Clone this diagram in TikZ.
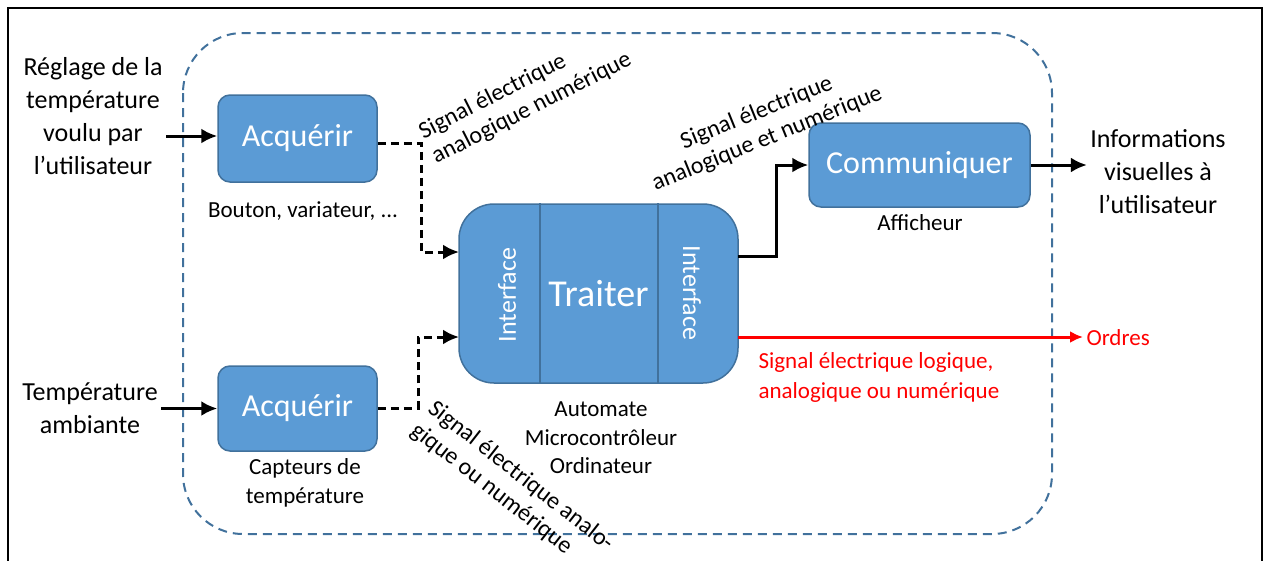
\documentclass[tikz,border=0pt]{standalone}
\usepackage{fontspec}
\setmainfont{Carlito}
\usetikzlibrary{positioning,arrows.meta}
\definecolor{bleu}{HTML}{5B9BD5}
\definecolor{bleufonce}{HTML}{41719C}
\definecolor{rouge}{HTML}{FF0000}

\tikzset{
  bloc/.style={draw=bleufonce, line width=1.5pt, fill=bleu, rounded corners=12pt,
    text=white, font=\fontsize{32}{36}\selectfont},
  legende/.style={align=center, font=\fontsize{26}{33}\selectfont},
  petit/.style={align=center, font=\fontsize{23}{28.5}\selectfont},
  penche/.style={inner sep=0pt, font=\fontsize{24}{28}\selectfont},
  fleche/.style={-{Latex[length=16pt,width=15pt]}, line width=3pt},
  pointille/.style={fleche, dash pattern=on 8pt off 5pt},
}

\begin{document}
\begin{tikzpicture}[x=1pt,y=-1pt]
\useasboundingbox (0,0) rectangle (1264,560);

% cadre
\draw [line width=2.5pt] (8,570) -- (8,8) -- (1262,8) -- (1262,570);
\draw [bleufonce, line width=2pt, dash pattern=on 9pt off 6pt, rounded corners=60pt]
  (183,33) rectangle (1052,534);

% blocs
\node [bloc, minimum width=159pt, minimum height=87pt] (acq1) at (297.5,138.5) {Acquérir};
\node [bloc, minimum width=159pt, minimum height=85pt] (acq2) at (297.5,408.5) {Acquérir};
\node [bloc, minimum width=221pt, minimum height=84pt] (comm) at (919.5,165) {Communiquer};
\node [bloc, rounded corners=35pt, minimum width=279pt, minimum height=179pt,
  font=\fontsize{38}{42}\selectfont] (trait) at (598.5,293.5) {Traiter};
\coordinate (sep1) at (540,0);
\coordinate (sep2) at (658,0);
\draw [bleufonce, line width=2pt] (trait.north -| sep1) -- (trait.south -| sep1);
\draw [bleufonce, line width=2pt] (trait.north -| sep2) -- (trait.south -| sep2);
\node [rotate=90, text=white, font=\fontsize{26}{30}\selectfont] (int1) at (507,295) {Interface};
\node [rotate=-90, text=white, font=\fontsize{26}{30}\selectfont] (int2) at (692,293) {Interface};

% textes
\node [legende] (reglage) at (93,116) {Réglage de la\\température\\voulu par\\l’utilisateur};
\node [legende] (temp) at (90,408) {Température\\ambiante};
\node [legende] (infos) at (1158,172) {Informations\\visuelles à\\l’utilisateur};
\node [petit] (bouton) at (303,211) {Bouton, variateur, ...};
\node [petit] (capteurs) at (305,483) {Capteurs de\\température};
\node [petit] (afficheur) at (920,223) {Afficheur};
\node [petit] (automate) at (601,438) {Automate\\Microcontrôleur\\Ordinateur};
\node [petit, align=left, anchor=west, text=rouge, font=\fontsize{23}{30}\selectfont]
  (logique) at (755,377) {Signal électrique logique,\\analogique ou numérique};
\node [petit, anchor=west, text=rouge] (ordres) at (1083,338) {Ordres};

\node [penche, align=left, anchor=west, rotate=27] (sig1) at (427,146)
  {Signal électrique\\analogique numérique};
\node [penche, align=center, rotate=22] (sig2) at (762,126)
  {Signal électrique\\analogique et numérique};
\node [penche, align=left, anchor=west, rotate=-38] (sig3) at (422,417)
  {Signal électrique analo-\\gique ou numérique};

% liaisons
\coordinate (c1) at (421,143);
\coordinate (c2) at (418,408);
\coordinate (c3) at (776,256);
\coordinate (e1) at (459,252);
\coordinate (e2) at (459,337);
\coordinate (s1) at (738,256);
\coordinate (s2) at (738,337);
\coordinate (ordre) at (1083,337);
\draw [fleche] (reglage.east |- 0,136) -- (acq1.west |- 0,136);
\draw [fleche] (temp.east |- acq2.west) -- (acq2.west);
\draw [pointille] (acq1.east |- c1) -- (c1) -- (c1 |- e1) -- (e1);
\draw [pointille] (acq2.east |- c2) -- (c2) -- (c2 |- e2) -- (e2);
\draw [fleche] (s1) -- (c3) -- (c3 |- comm.west) -- (comm.west);
\draw [fleche] (comm.east) -- (comm.east -| infos.west);
\draw [rouge, line width=3pt, -{Latex[length=13pt,width=12pt]}] (s2) -- (ordre);
\end{tikzpicture}
\end{document}
